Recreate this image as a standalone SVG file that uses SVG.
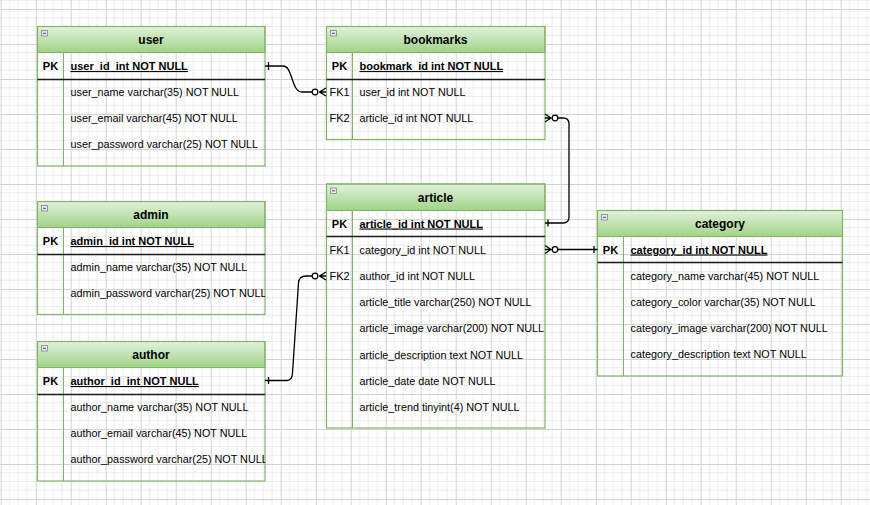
<svg xmlns="http://www.w3.org/2000/svg" width="870" height="505" viewBox="0 0 870 505">
<style>
.hdr{fill:url(#hg);stroke:#82b366;stroke-width:1}
.box{fill:none;stroke:#82b366;stroke-width:1.2}
.col{stroke:#82b366;stroke-width:1}
.sep{stroke:#1a1a1a;stroke-width:1.5}
.title{font-family:"Liberation Sans",Arial,sans-serif;font-size:12px;font-weight:bold;fill:#000;text-anchor:middle}
.key{font-family:"Liberation Sans",Arial,sans-serif;font-size:11px;font-weight:bold;fill:#000;text-anchor:middle}
.fk{font-family:"Liberation Sans",Arial,sans-serif;font-size:11px;fill:#000;text-anchor:middle}
.pkf{font-family:"Liberation Sans",Arial,sans-serif;font-size:11px;font-weight:bold;fill:#000;text-decoration:underline}
.f{font-family:"Liberation Sans",Arial,sans-serif;font-size:10.8px;fill:#000}
.ico{fill:#e6e8ef;stroke:#80859a;stroke-width:0.8}
.icl{stroke:#4a4a55;stroke-width:1}
.edge{fill:none;stroke:#000;stroke-width:1.3}
.circ{fill:#fff;stroke:#000;stroke-width:1.2}
</style>
<defs>
<linearGradient id="hg" x1="0" y1="0" x2="0" y2="1">
<stop offset="0" stop-color="#e3f1dc"/>
<stop offset="1" stop-color="#a0d387"/>
</linearGradient>
<pattern id="grid" patternUnits="userSpaceOnUse" x="0.7" y="9" width="35" height="35">
<rect width="35" height="35" fill="#fff"/>
<path d="M8.75,0V35M17.5,0V35M26.25,0V35M0,8.75H35M0,17.5H35M0,26.25H35" stroke="#ececf0" stroke-width="1" fill="none"/>
<path d="M0.5,0V35M0,0.5H35" stroke="#d2d2d2" stroke-width="1" fill="none"/>
</pattern>
<clipPath id="lclip"><rect x="0" y="0" width="265" height="505"/></clipPath>
</defs>
<rect width="870" height="505" fill="url(#grid)"/>

<g id="user">
<rect class="hdr" x="37.5" y="26.5" width="227.5" height="26"/>
<rect class="box" x="37.5" y="26.5" width="227.5" height="139.5"/>
<line class="col" x1="63.5" y1="52.5" x2="63.5" y2="166"/>
<line class="sep" x1="37.5" y1="79.5" x2="265" y2="79.5"/>
<rect class="ico" x="41.5" y="30.5" width="6" height="5.5"/><line class="icl" x1="43" y1="33.3" x2="46" y2="33.3"/>
<text class="title" x="151" y="44">user</text>
<text class="key" x="50.5" y="70">PK</text>
<text class="pkf" x="70.5" y="70" xml:space="preserve">user_id  int NOT NULL</text>
<text class="f" x="70.5" y="96">user_name varchar(35) NOT NULL</text>
<text class="f" x="70.5" y="122">user_email varchar(45) NOT NULL</text>
<text class="f" x="70.5" y="148">user_password varchar(25) NOT NULL</text>
</g>

<g id="admin">
<rect class="hdr" x="37.5" y="201.5" width="227.5" height="26"/>
<rect class="box" x="37.5" y="201.5" width="227.5" height="113"/>
<line class="col" x1="63.5" y1="227.5" x2="63.5" y2="314.5"/>
<line class="sep" x1="37.5" y1="254.5" x2="265" y2="254.5"/>
<rect class="ico" x="41.5" y="205.5" width="6" height="5.5"/><line class="icl" x1="43" y1="208.3" x2="46" y2="208.3"/>
<text class="title" x="151" y="219">admin</text>
<text class="key" x="50.5" y="245">PK</text>
<text class="pkf" x="70.5" y="245">admin_id int NOT NULL</text>
<text class="f" x="70.5" y="271">admin_name varchar(35) NOT NULL</text>
<text class="f" x="70.5" y="297" clip-path="url(#lclip)">admin_password varchar(25) NOT NULL</text>
</g>

<g id="author">
<rect class="hdr" x="37.5" y="341.5" width="227.5" height="26"/>
<rect class="box" x="37.5" y="341.5" width="227.5" height="139.5"/>
<line class="col" x1="63.5" y1="367.5" x2="63.5" y2="481"/>
<line class="sep" x1="37.5" y1="394.5" x2="265" y2="394.5"/>
<rect class="ico" x="41.5" y="345.5" width="6" height="5.5"/><line class="icl" x1="43" y1="348.3" x2="46" y2="348.3"/>
<text class="title" x="151" y="359">author</text>
<text class="key" x="50.5" y="385">PK</text>
<text class="pkf" x="70.5" y="385" xml:space="preserve">author_id  int NOT NULL</text>
<text class="f" x="70.5" y="411">author_name varchar(35) NOT NULL</text>
<text class="f" x="70.5" y="437">author_email varchar(45) NOT NULL</text>
<text class="f" x="70.5" y="463" clip-path="url(#lclip)">author_password varchar(25) NOT NULL</text>
</g>

<g id="bookmarks">
<rect class="hdr" x="326.5" y="26.5" width="218.5" height="26"/>
<rect class="box" x="326.5" y="26.5" width="218.5" height="113"/>
<line class="col" x1="352.5" y1="52.5" x2="352.5" y2="139.5"/>
<line class="sep" x1="326.5" y1="79.5" x2="545" y2="79.5"/>
<rect class="ico" x="330.5" y="30.5" width="6" height="5.5"/><line class="icl" x1="332" y1="33.3" x2="335" y2="33.3"/>
<text class="title" x="435.5" y="44">bookmarks</text>
<text class="key" x="339.5" y="70">PK</text>
<text class="pkf" x="359.5" y="70">bookmark_id int NOT NULL</text>
<text class="fk" x="339.5" y="96">FK1</text>
<text class="f" x="359.5" y="96">user_id int NOT NULL</text>
<text class="fk" x="339.5" y="122">FK2</text>
<text class="f" x="359.5" y="122">article_id int NOT NULL</text>
</g>

<g id="article">
<rect class="hdr" x="326.5" y="184" width="218.5" height="26.5"/>
<rect class="box" x="326.5" y="184" width="218.5" height="244"/>
<line class="col" x1="352.5" y1="210.5" x2="352.5" y2="428"/>
<line class="sep" x1="326.5" y1="236.5" x2="545" y2="236.5"/>
<rect class="ico" x="330.5" y="188" width="6" height="5.5"/><line class="icl" x1="332" y1="190.8" x2="335" y2="190.8"/>
<text class="title" x="435.5" y="201.5">article</text>
<text class="key" x="339.5" y="227.5">PK</text>
<text class="pkf" x="359.5" y="227.5">article_id int NOT NULL</text>
<text class="fk" x="339.5" y="253.5">FK1</text>
<text class="f" x="359.5" y="253.5">category_id int NOT NULL</text>
<text class="fk" x="339.5" y="280">FK2</text>
<text class="f" x="359.5" y="280">author_id int NOT NULL</text>
<text class="f" x="359.5" y="306">article_title varchar(250) NOT NULL</text>
<text class="f" x="359.5" y="332">article_image varchar(200) NOT NULL</text>
<text class="f" x="359.5" y="358.5">article_description text NOT NULL</text>
<text class="f" x="359.5" y="384.5">article_date date NOT NULL</text>
<text class="f" x="359.5" y="411">article_trend tinyint(4) NOT NULL</text>
</g>

<g id="category">
<rect class="hdr" x="597.5" y="210.5" width="245" height="26"/>
<rect class="box" x="597.5" y="210.5" width="245" height="165.5"/>
<line class="col" x1="623.5" y1="236.5" x2="623.5" y2="376"/>
<line class="sep" x1="597.5" y1="262.5" x2="842.5" y2="262.5"/>
<rect class="ico" x="601.5" y="214.5" width="6" height="5.5"/><line class="icl" x1="603" y1="217.3" x2="606" y2="217.3"/>
<text class="title" x="720" y="228">category</text>
<text class="key" x="610.5" y="253.5">PK</text>
<text class="pkf" x="630.5" y="253.5">category_id int NOT NULL</text>
<text class="f" x="630.5" y="280">category_name varchar(45) NOT NULL</text>
<text class="f" x="630.5" y="306">category_color varchar(35) NOT NULL</text>
<text class="f" x="630.5" y="332">category_image varchar(200) NOT NULL</text>
<text class="f" x="630.5" y="358">category_description text NOT NULL</text>
</g>

<g id="connectors">
<path class="edge" d="M265,66 H283 C293,66 291,92 302,92 H312"/>
<line class="edge" x1="268.5" y1="62" x2="268.5" y2="70"/>
<circle class="circ" cx="315" cy="92" r="2.8"/>
<path class="edge" d="M326,88 L319.5,92 L326,96 M319.5,92 H326"/>
<path class="edge" d="M558,118 H563 Q569,118 569,124 V217 Q569,223 563,223 H545"/>
<path class="edge" d="M545,114 L551,118 L545,122 M545,118 H551"/>
<circle class="circ" cx="555" cy="118" r="2.8"/>
<line class="edge" x1="548" y1="219.5" x2="548" y2="226.5"/>
<path class="edge" d="M558,249.5 H597.5"/>
<path class="edge" d="M545,245.5 L551,249.5 L545,253.5 M545,249.5 H551"/>
<circle class="circ" cx="555" cy="249.5" r="2.8"/>
<line class="edge" x1="594" y1="246" x2="594" y2="253"/>
<path class="edge" d="M265,380.5 H287 Q292,380.5 292.5,373 L298.5,283 Q299,276 306,276 H312"/>
<line class="edge" x1="268.5" y1="377" x2="268.5" y2="384"/>
<circle class="circ" cx="315" cy="276" r="2.8"/>
<path class="edge" d="M326,272 L319.5,276 L326,280 M319.5,276 H326"/>
</g>
</svg>
